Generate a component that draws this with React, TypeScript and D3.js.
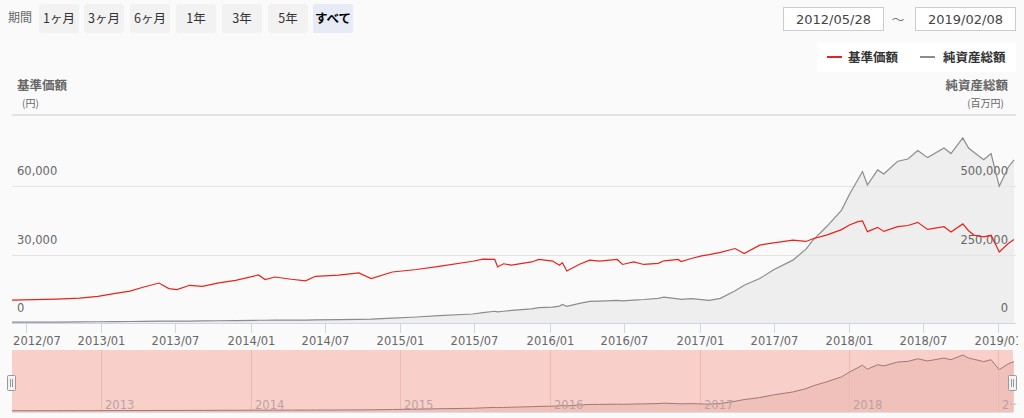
import React from "react";
import * as d3 from "d3";

// 基準価額 / 純資産総額
const dates = [
  "2012-05-28", "2012-07-20", "2012-09-14", "2012-11-09", "2012-12-24",
  "2013-02-01", "2013-03-12", "2013-04-15", "2013-05-22", "2013-06-15",
  "2013-07-05", "2013-08-05", "2013-09-05", "2013-10-15", "2013-11-25",
  "2014-01-20", "2014-02-05", "2014-03-01", "2014-04-10", "2014-05-15",
  "2014-06-08", "2014-08-04", "2014-09-22", "2014-10-22", "2014-12-13",
  "2015-02-10", "2015-04-06", "2015-06-27", "2015-07-22", "2015-08-20",
  "2015-08-27", "2015-09-10", "2015-09-30", "2015-11-18", "2015-12-06",
  "2016-01-08", "2016-01-25", "2016-02-01", "2016-02-12", "2016-03-14",
  "2016-04-08", "2016-05-02", "2016-06-14", "2016-06-27", "2016-07-24",
  "2016-08-18", "2016-09-22", "2016-10-06", "2016-11-10", "2016-11-17",
  "2016-12-12", "2017-01-06", "2017-01-25", "2017-02-21", "2017-03-29",
  "2017-04-20", "2017-05-28", "2017-07-01", "2017-08-17", "2017-09-18",
  "2017-10-05", "2017-11-07", "2017-12-14", "2018-01-02", "2018-01-23",
  "2018-02-03", "2018-02-15", "2018-03-12", "2018-03-27", "2018-04-30",
  "2018-05-25", "2018-06-18", "2018-07-12", "2018-08-21", "2018-09-07",
  "2018-10-06", "2018-10-20", "2018-11-02", "2018-11-26", "2018-12-14",
  "2019-01-03", "2019-01-25", "2019-02-08",
];

const navValues = [
  10000, 10300, 10500, 10900, 11700,
  12900, 14000, 15800, 17550, 15100,
  14650, 16550, 16100, 17600, 18750,
  21100, 19050, 20200, 19200, 18500,
  20500, 21000, 22000, 19500, 22400,
  23500, 24900, 27100, 28000, 27900,
  24600, 26000, 25400, 26800, 27900,
  27200, 25400, 26500, 22850, 25800,
  27600, 27200, 27900, 25700, 26800,
  25700, 26200, 27300, 27900, 27000,
  28300, 29500, 30000, 31000, 32700,
  30500, 34200, 35200, 36400, 35800,
  37000, 38600, 41000, 43000, 44500,
  44800, 40100, 42000, 40200, 42300,
  42800, 44200, 41100, 42300, 40000,
  43500, 40500, 38600, 37800, 38500,
  31200, 34900, 36700,
];

const assetValues = [
  3000, 3200, 3500, 4000, 4500,
  5000, 5500, 6000, 6800, 6600,
  6800, 7200, 7500, 8200, 9000,
  10000, 10000, 10300, 10500, 10800,
  11200, 12000, 13500, 14500, 18000,
  22000, 27000, 33000, 38000, 43000,
  41000, 43000, 46000, 52000, 56000,
  58000, 62000, 68000, 60700, 72000,
  79000, 80000, 82700, 81000, 84000,
  86000, 90000, 94900, 88000, 86400,
  89000, 85300, 82700, 90000, 118000,
  138000, 162500, 195000, 230000, 270000,
  303000, 352000, 413000, 470000, 525000,
  554000, 505000, 560000, 545000, 592000,
  600000, 631000, 605000, 640000, 620000,
  677000, 640000, 625000, 597000, 620000,
  500000, 570000, 597000,
];

const xTickLabels = [
  "2012/07", "2013/01", "2013/07", "2014/01", "2014/07", "2015/01", "2015/07",
  "2016/01", "2016/07", "2017/01", "2017/07", "2018/01", "2018/07", "2019/01",
];
const leftTicks = [0, 30000, 60000];
const rightTicks = [0, 250000, 500000];
const navigatorYears = ["2013", "2014", "2015", "2016", "2017", "2018", "2019"];
const rangeButtons = ["1ヶ月", "3ヶ月", "6ヶ月", "1年", "3年", "5年", "すべて"];
const seriesNames = ["基準価額", "純資産総額"];
const dateRange = ["2012/05/28", "2019/02/08"];

const W = 1024;
const H = 418;
const plot = { left: 12, right: 1014, top: 115, bottom: 323 };
const nav = { top: 350, bottom: 412 };

const jp = "'Noto Sans CJK JP', 'Noto Sans', sans-serif";
const num = "'DejaVu Sans', Verdana, sans-serif";

export default function App() {
  const parse = d3.timeParse("%Y-%m-%d");
  const parseTick = d3.timeParse("%Y/%m");
  const data = dates.map((d, i) => ({
    date: parse(d) as Date,
    nav: navValues[i],
    assets: assetValues[i],
  }));

  const x = d3
    .scaleTime()
    .domain([data[0].date, data[data.length - 1].date])
    .range([plot.left, plot.right]);
  const yLeft = d3.scaleLinear().domain([0, 90000]).range([plot.bottom, plot.top + 3]);
  const yRight = d3.scaleLinear().domain([0, 750000]).range([plot.bottom, plot.top + 3]);
  const yNav = d3
    .scaleLinear()
    .domain([0, d3.max(assetValues) as number])
    .range([nav.bottom - 1, nav.top + 5]);

  const navLine = d3
    .line<(typeof data)[0]>()
    .x((d) => x(d.date))
    .y((d) => yLeft(d.nav));
  const assetLine = d3
    .line<(typeof data)[0]>()
    .x((d) => x(d.date))
    .y((d) => yRight(d.assets));
  const assetArea = d3
    .area<(typeof data)[0]>()
    .x((d) => x(d.date))
    .y0(plot.bottom)
    .y1((d) => yRight(d.assets));
  const navigatorLine = d3
    .line<(typeof data)[0]>()
    .x((d) => x(d.date))
    .y((d) => yNav(d.assets));
  const navigatorArea = d3
    .area<(typeof data)[0]>()
    .x((d) => x(d.date))
    .y0(nav.bottom)
    .y1((d) => yNav(d.assets));

  const btnX = [39, 84, 130, 176, 222, 268, 313];

  return (
    <svg
      width={W}
      height={H}
      style={{ position: "fixed", left: 0, top: 0, background: "#fafafa" }}
    >
      <defs>
        <clipPath id="plotClip">
          <rect x={plot.left} y={plot.top} width={1016 - plot.left} height={plot.bottom - plot.top} />
        </clipPath>
        <clipPath id="pageClip">
          <rect x={0} y={0} width={1018} height={H} />
        </clipPath>
      </defs>

      {/* range selector */}
      <text x={8} y={22} fontFamily={jp} fontSize={12} fill="#666">期間</text>
      {rangeButtons.map((b, i) => {
        const sel = i === rangeButtons.length - 1;
        return (
          <g key={b}>
            <rect x={btnX[i]} y={4} width={40} height={29} rx={2} fill={sel ? "#e6ebf5" : "#f2f2f2"} />
            <text
              x={btnX[i] + 20}
              y={23}
              textAnchor="middle"
              fontFamily={jp}
              fontSize={12.5}
              fontWeight={sel ? 700 : 400}
              fill={sel ? "#000" : "#333"}
            >
              {b}
            </text>
          </g>
        );
      })}

      {/* date inputs */}
      {dateRange.map((d, i) => (
        <g key={d}>
          <rect x={783.5 + i * 132} y={7.5} width={100} height={23} fill="#fff" stroke="#ccc" />
          <text x={833.5 + i * 132} y={24} textAnchor="middle" fontFamily={num} fontSize={13} fill="#444">
            {d}
          </text>
        </g>
      ))}
      <text x={898} y={24} textAnchor="middle" fontFamily={jp} fontSize={13} fill="#777">〜</text>

      {/* legend */}
      <rect x={817} y={43} width={199} height={29} fill="#fff" />
      <line x1={827} x2={842} y1={57} y2={57} stroke="#e8231b" strokeWidth={2} />
      <text x={848} y={62} fontFamily={jp} fontSize={12.5} fontWeight={700} fill="#333">{seriesNames[0]}</text>
      <line x1={920} x2={935} y1={57} y2={57} stroke="#8c8c8c" strokeWidth={2} />
      <text x={943} y={62} fontFamily={jp} fontSize={12.5} fontWeight={700} fill="#333">{seriesNames[1]}</text>

      {/* axis titles */}
      <text x={17} y={90} fontFamily={jp} fontSize={12.5} fontWeight={700} fill="#666">{seriesNames[0]}</text>
      <text x={22} y={107} fontFamily={jp} fontSize={10} fill="#666">(円)</text>
      <text x={1008} y={90} textAnchor="end" fontFamily={jp} fontSize={12.5} fontWeight={700} fill="#666">{seriesNames[1]}</text>
      <text x={1004} y={107} textAnchor="end" fontFamily={jp} fontSize={10} fill="#666">(百万円)</text>

      {/* plot top border */}
      <line x1={plot.left} x2={1016} y1={plot.top} y2={plot.top} stroke="#e3e3e3" strokeWidth={2} />

      {/* gridlines */}
      {leftTicks.slice(1).map((t) => (
        <line key={t} x1={plot.left} x2={1016} y1={Math.round(yLeft(t)) + 0.5} y2={Math.round(yLeft(t)) + 0.5} stroke="#e3e3e3" />
      ))}

      {/* asset area */}
      <g clipPath="url(#plotClip)">
        <path d={assetArea(data) as string} fill="#e6e6e6" fillOpacity={0.6} />
      </g>

      {/* y labels */}
      {leftTicks.map((t) => (
        <text key={t} x={17} y={yLeft(t) - 11} fontFamily={num} fontSize={11.5} fill="#666">
          {d3.format(",")(t)}
        </text>
      ))}
      {rightTicks.map((t) => (
        <text key={t} x={1008} y={yRight(t) - 11} textAnchor="end" fontFamily={num} fontSize={11.5} fill="#666">
          {d3.format(",")(t)}
        </text>
      ))}

      {/* series */}
      <g clipPath="url(#plotClip)">
        <path d={assetLine(data) as string} fill="none" stroke="#8c8c8c" strokeWidth={1.2} />
        <path d={navLine(data) as string} fill="none" stroke="#e8231b" strokeWidth={1.2} />
      </g>

      {/* x axis */}
      <line x1={plot.left} x2={1016} y1={plot.bottom + 0.5} y2={plot.bottom + 0.5} stroke="#ccd6eb" />
      <g clipPath="url(#pageClip)">
        {xTickLabels.map((t, i) => {
          const px = Math.round(x(parseTick(t) as Date)) + 0.5;
          const lx = i === 0 ? Math.max(px, 13 + 24) : px;
          return (
            <g key={t}>
              <line x1={px} x2={px} y1={plot.bottom} y2={plot.bottom + 10} stroke="#ccd6eb" />
              <text x={lx} y={345} textAnchor="middle" fontFamily={num} fontSize={11.5} fill="#666">
                {t}
              </text>
            </g>
          );
        })}
      </g>

      {/* navigator */}
      <rect x={plot.left} y={nav.top} width={1013 - plot.left} height={nav.bottom - nav.top} fill="#f9cfca" />
      {navigatorYears.map((yr) => {
        const px = Math.round(x(parseTick(yr + "/01") as Date)) + 0.5;
        return (
          <g key={yr}>
            <line x1={px} x2={px} y1={nav.top} y2={nav.bottom} stroke="#ecbab5" />
          </g>
        );
      })}
      <path d={navigatorArea(data) as string} fill="#eebcb7" fillOpacity={0.8} />
      <path d={navigatorLine(data) as string} fill="none" stroke="#a07876" strokeWidth={1} />
      <g clipPath="url(#pageClip)">
        {navigatorYears.map((yr, i) => {
          const px = Math.round(x(parseTick(yr + "/01") as Date));
          return (
            <text key={yr} x={px + 4} y={409} fontFamily={num} fontSize={11.5} fill="#b9a3a1">
              {i === navigatorYears.length - 1 ? "2···" : yr}
            </text>
          );
        })}
      </g>
      <line x1={plot.left} x2={1013} y1={nav.bottom + 0.5} y2={nav.bottom + 0.5} stroke="#dedede" />

      {/* navigator handles */}
      {[plot.left, 1013].map((hx, i) => (
        <g key={i}>
          <rect x={hx - 4.5} y={375.5} width={8} height={15} rx={1} fill="#f2f2f2" stroke="#999" />
          <line x1={hx - 1.5} x2={hx - 1.5} y1={379} y2={387} stroke="#999" />
          <line x1={hx + 0.5} x2={hx + 0.5} y1={379} y2={387} stroke="#999" />
        </g>
      ))}
    </svg>
  );
}
